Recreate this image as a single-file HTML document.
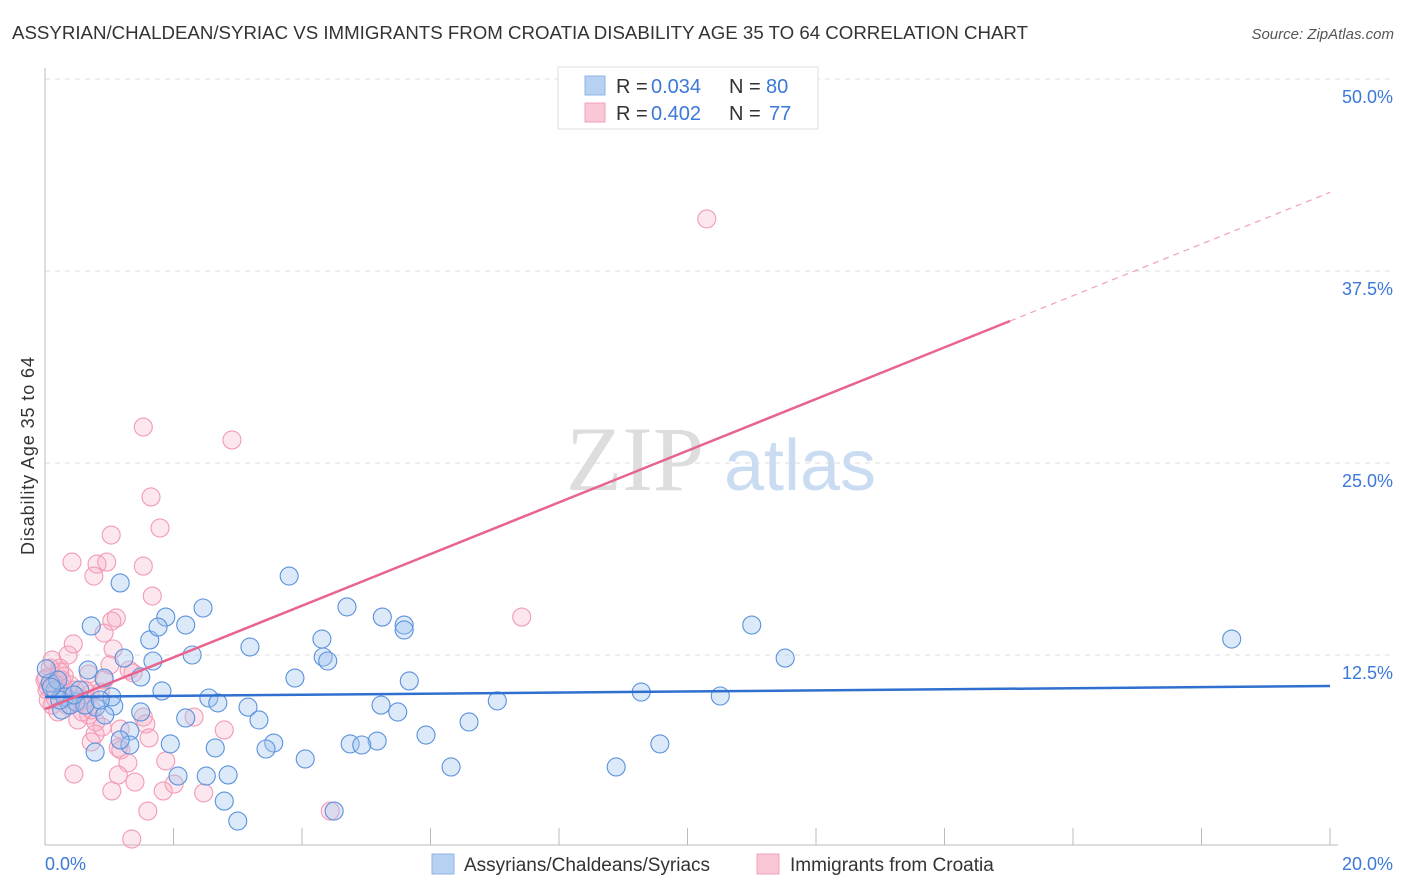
<!DOCTYPE html>
<html><head><meta charset="utf-8"><style>
body{margin:0;background:#fff;font-family:"Liberation Sans",sans-serif}
svg{display:block}
</style></head><body>
<svg id="c" width="1406" height="892" xmlns="http://www.w3.org/2000/svg">
<text x="12" y="39" font-size="18" fill="#333" textLength="1016" lengthAdjust="spacingAndGlyphs">ASSYRIAN/CHALDEAN/SYRIAC VS IMMIGRANTS FROM CROATIA DISABILITY AGE 35 TO 64 CORRELATION CHART</text>
<text x="1394" y="39" font-size="15" fill="#555" font-style="italic" text-anchor="end">Source: ZipAtlas.com</text>
<text x="34" y="456" font-size="18" fill="#333" text-anchor="middle" textLength="198" transform="rotate(-90 34 456)">Disability Age 35 to 64</text>
<g><text x="635" y="490" font-size="92" fill="#ddd" font-family="Liberation Serif,serif" text-anchor="middle">ZIP</text><text x="800" y="490" font-size="72" fill="#c9dcf2" text-anchor="middle">atlas</text></g>
<g id="grid"></g><g id="axes"></g><g id="pts"></g><g id="trend"></g>
<g>
<rect x="558" y="67" width="260" height="62" fill="#fff" stroke="#ddd"/>
<rect x="585" y="76" width="20" height="19" fill="#b7d1f3" stroke="#8fb4e6"/>
<rect x="585" y="103" width="20" height="19" fill="#f9c7d5" stroke="#f1a3bb"/>
<text x="616" y="93" font-size="20" fill="#333">R =</text>
<text x="651" y="93" font-size="20" fill="#3b78d8">0.034</text>
<text x="729" y="93" font-size="20" fill="#333">N =</text>
<text x="766" y="93" font-size="20" fill="#3b78d8">80</text>
<text x="616" y="120" font-size="20" fill="#333">R =</text>
<text x="651" y="120" font-size="20" fill="#3b78d8">0.402</text>
<text x="729" y="120" font-size="20" fill="#333">N =</text>
<text x="769" y="120" font-size="20" fill="#3b78d8">77</text>
</g>
<g>
<rect x="432" y="854" width="22" height="20" fill="#b7d1f3" stroke="#8fb4e6"/>
<text x="464" y="871" font-size="19" fill="#333">Assyrians/Chaldeans/Syriacs</text>
<rect x="757" y="854" width="22" height="20" fill="#f9c7d5" stroke="#f1a3bb"/>
<text x="790" y="871" font-size="19" fill="#333">Immigrants from Croatia</text>
</g>
</svg>
<script>
const yTicks=[12.5,25,37.5,50];
const yTickLabels=["12.5%","25.0%","37.5%","50.0%"];
const xTickCount=[0,2,4,6,8,10,12,14,16,18,20];
const xEndLabels=["0.0%","20.0%"];
const blueX=[1.17,0.72,1.88,1.63,1.76,2.19,2.46,3.80,4.70,5.25,5.59,5.59,4.31,3.19,2.29,1.23,1.68,4.33,4.40,1.49,0.92,0.67,3.89,5.67,1.82,2.55,2.69,3.16,2.19,3.33,5.23,5.49,7.04,6.60,9.28,10.51,11.00,11.52,18.47,5.93,4.75,5.17,4.93,3.56,3.44,2.65,1.95,1.32,1.49,1.07,0.79,0.26,0.48,0.93,0.78,4.05,2.85,2.51,2.07,2.79,3.00,4.50,6.32,8.89,9.57,1.32,0.16,0.31,0.54,0.39,1.04,0.23,0.08,0.62,1.17,0.86,0.20,0.02,0.10,0.45];
const blueY=[17.19,14.39,14.97,13.48,14.32,14.45,15.56,17.64,15.63,14.97,14.45,14.13,13.54,13.02,12.5,12.30,12.11,12.37,12.11,11.07,11.00,11.52,11.00,10.81,10.16,9.70,9.38,9.11,8.40,8.27,9.24,8.79,9.51,8.14,10.09,9.83,14.45,12.30,13.54,7.29,6.71,6.90,6.64,6.77,6.38,6.45,6.71,7.55,8.79,9.18,9.11,8.92,9.44,8.59,6.18,5.73,4.69,4.62,4.62,2.99,1.69,2.34,5.21,5.21,6.71,6.64,10.22,9.77,10.22,9.24,9.77,9.57,10.68,9.24,6.97,9.57,10.87,11.6,10.4,9.9];
const pinkX=[10.30,1.53,2.91,1.65,1.79,1.03,0.42,0.81,0.96,1.53,0.76,1.67,1.11,1.04,0.92,0.44,0.36,1.06,1.31,1.37,0.68,0.23,0.26,0.47,0.54,0.70,0.08,0.03,0.16,0.34,0.68,0.79,0.89,0.78,0.72,1.17,1.53,1.57,1.62,2.32,2.79,1.14,1.18,1.88,1.29,1.14,0.45,1.40,1.04,1.84,1.60,2.01,2.47,4.44,1.35,7.42,0.51,0.62,0.28,0.16,0.00,0.11,0.39,0.23,0.86,0.58,0.42,0.20,0.30,0.05,0.62,0.73,0.92,1.01,0.11,0.05,0.02];
const pinkY=[40.89,27.34,26.50,22.79,20.77,20.31,18.55,18.42,18.55,18.29,17.64,16.34,14.91,14.71,13.93,13.22,12.5,12.89,11.52,11.33,11.26,11.65,10.87,10.22,9.57,9.96,11.65,10.22,9.70,9.24,8.59,8.14,7.81,7.36,6.84,7.68,8.46,8.01,7.10,8.46,7.62,6.45,6.32,5.60,5.47,4.69,4.75,4.23,3.65,3.65,2.34,4.10,3.52,2.34,0.52,14.97,8.27,9.57,10.35,10.61,10.87,9.24,10.55,11.39,10.09,8.79,9.57,8.79,11.13,9.57,10.22,8.92,10.87,11.85,12.17,10.4,11.0];
const blueTrend=[9.77,10.48];
const pinkTrend=[8.98,1.682];
const pinkSolidEnd=15.02;

const X=v=>45+v/20*1285, Y=v=>847-v/12.5*192;
const NS="http://www.w3.org/2000/svg";
function mk(p,t,a){const e=document.createElementNS(NS,t);for(const k in a)e.setAttribute(k,a[k]);p.appendChild(e);return e;}
const g=document.getElementById('grid'),ax=document.getElementById('axes'),pts=document.getElementById('pts'),tr=document.getElementById('trend');
yTicks.forEach((v,i)=>{
 const l=mk(g,'line',{x1:45,x2:1394,y1:Y(v),y2:Y(v),stroke:'#ddd','stroke-dasharray':'5,5'});
 
 
 const t=mk(g,'text',{x:1393,y:Y(v)+24,'font-size':18,fill:'#3b78d8','text-anchor':'end'});
 t.textContent=yTickLabels[i];
 
 
});
const a1=mk(ax,'line',{x1:45,x2:45,y1:68,y2:845,stroke:'#bbb'});


const a2=mk(ax,'line',{x1:45,x2:1338,y1:845,y2:845,stroke:'#bbb'});


xTickCount.forEach(v=>{
 const t=mk(ax,'line',{x1:X(v),x2:X(v),y1:828,y2:845,stroke:'#bbb'});
 
 
});
[[0,'start',45],[20,'end',1393]].forEach((d,i)=>{
 const t=mk(ax,'text',{x:d[2],y:870,'font-size':18,fill:'#3b78d8','text-anchor':d[1]});
 t.textContent=xEndLabels[i];
 
 
});
pinkX.forEach((v,i)=>{
 const c=mk(pts,'circle',{cx:X(v),cy:Y(pinkY[i]),r:9,fill:'rgba(248,170,195,0.28)',stroke:'#f29ab5','stroke-width':1.1});
 
 
});
blueX.forEach((v,i)=>{
 const c=mk(pts,'circle',{cx:X(v),cy:Y(blueY[i]),r:9,fill:'rgba(160,196,240,0.38)',stroke:'#5b91dc','stroke-width':1.1});
 
 
});
const bl=mk(tr,'line',{x1:X(0),y1:Y(blueTrend[0]),x2:X(20),y2:Y(blueTrend[1]),stroke:'#2f6fd0','stroke-width':2.5});


const pf=v=>pinkTrend[0]+pinkTrend[1]*v;
const pl=mk(tr,'line',{x1:X(0),y1:Y(pf(0)),x2:X(pinkSolidEnd),y2:Y(pf(pinkSolidEnd)),stroke:'#e8648e','stroke-width':2.5});


const pd=mk(tr,'line',{x1:X(pinkSolidEnd),y1:Y(pf(pinkSolidEnd)),x2:X(20),y2:Y(pf(20)),stroke:'#f0a0b8','stroke-width':1.2,'stroke-dasharray':'6,5'});


</script>
</body></html>
